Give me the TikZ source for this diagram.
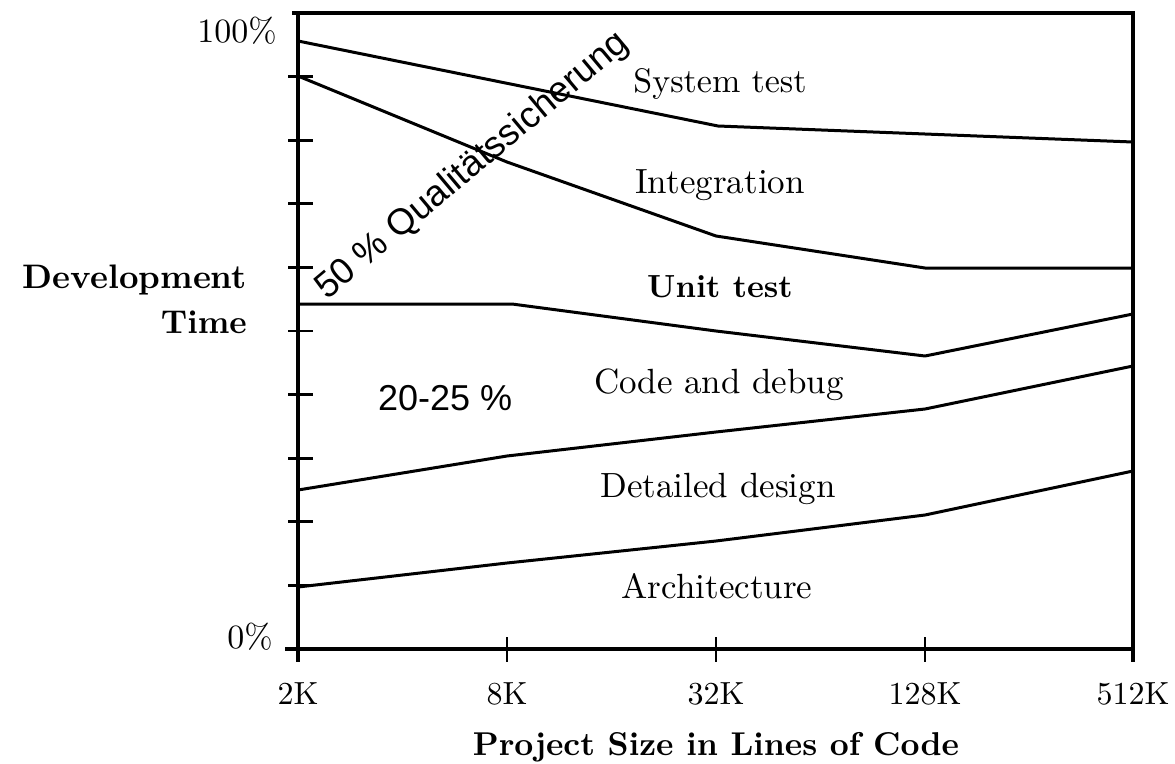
\documentclass[tikz,border=0pt]{standalone}
\usepackage{fontspec}
\setmainfont{lmroman10}[Extension=.otf, UprightFont=*-regular, BoldFont=*-bold, ItalicFont=*-italic]
\newfontfamily\notesans{Liberation Sans}
\begin{document}
\begin{tikzpicture}[x=1pt,y=-1pt,
  curve/.style={line width=3pt, line join=round},
  axisline/.style={line width=3.4pt, line cap=butt},
  tickmark/.style={line width=2.8pt},
  phase/.style={font=\fontsize{35}{40}\selectfont, anchor=base, inner sep=0pt},
  boldphase/.style={font=\bfseries\fontsize{32}{38}\selectfont, anchor=base, inner sep=0pt},
  ticklabel/.style={font=\fontsize{32}{38}\selectfont, anchor=base, inner sep=0pt},
  pctlabel/.style={font=\fontsize{34}{40}\selectfont, anchor=base east, inner sep=0pt},
  axistitle/.style={font=\bfseries\fontsize{33}{40}\selectfont, inner sep=0pt},
  note/.style={font=\notesans\fontsize{36}{42}\selectfont, inner sep=0pt}]
\useasboundingbox (0,0) rectangle (1175,763);
\fill[white] (0,0) rectangle (1175,763);

% frame and axes
\coordinate (tl) at (298,13);
\coordinate (tr) at (1133,13);
\coordinate (bl) at (298,649);
\coordinate (br) at (1133,649);
\draw[axisline] (292,13) -- (tr) -- (1133,662);
\draw[axisline] (tl) -- (298,662);
\draw[axisline] (285,649) -- (br);

% y ticks every 10 %
\foreach \k in {1,...,9}
  \draw[tickmark] (288,{649-63.6*\k}) -- (313,{649-63.6*\k});
% x ticks
\foreach \xx in {507,716,925}
  \draw[tickmark] (\xx,637) -- (\xx,662);

% phase boundaries
\coordinate (s0) at (298,41);   \coordinate (s2) at (718,126);
\coordinate (s3) at (925,134);  \coordinate (s4) at (1133,142);
\draw[curve] (s0) -- (s2) -- (s3) -- (s4);

\coordinate (i0) at (298,76);   \coordinate (i1) at (507,162);
\coordinate (i2) at (716,236);  \coordinate (i3) at (925,268);
\coordinate (i4) at (1133,268);
\draw[curve] (i0) -- (i1) -- (i2) -- (i3) -- (i4);

\coordinate (u0) at (298,304);  \coordinate (u1) at (512,304);
\coordinate (u2) at (716,331);  \coordinate (u3) at (925,356);
\coordinate (u4) at (1133,314);
\draw[curve] (u0) -- (u1) -- (u2) -- (u3) -- (u4);

\coordinate (c0) at (298,490);  \coordinate (c1) at (507,456);
\coordinate (c2) at (716,432);  \coordinate (c3) at (925,409);
\coordinate (c4) at (1133,366);
\draw[curve] (c0) -- (c1) -- (c2) -- (c3) -- (c4);

\coordinate (d0) at (298,587);  \coordinate (d1) at (507,563);
\coordinate (d2) at (716,541);  \coordinate (d3) at (925,515);
\coordinate (d4) at (1133,471);
\draw[curve] (d0) -- (d1) -- (d2) -- (d3) -- (d4);

% phase names
\node[phase, font=\fontsize{34}{40}\selectfont] (systest) at (720,92) {System test};
\node[phase] (integ) at (720,193) {Integration};
\node[boldphase] (unittest) at (720,297) {Unit test};
\node[phase] (code) at (719,393) {Code and debug};
\node[phase] (detail) at (718,497) {Detailed design};
\node[phase] (arch) at (717,598) {Architecture};

% axis labels
\node[pctlabel] (p100) at (277,42) {100\%};
\node[pctlabel] (p0) at (273,648) {0\%};
\node[ticklabel] (k2) at (298,704) {2K};
\node[ticklabel] (k8) at (507,704) {8K};
\node[ticklabel] (k32) at (716,704) {32K};
\node[ticklabel] (k128) at (925,704) {128K};
\node[ticklabel] (k512) at (1133,704) {512K};
\node[axistitle, anchor=base] (xtitle) at (716,755) {Project Size in Lines of Code};
\node[axistitle, anchor=base east, font=\bfseries\fontsize{34}{40}\selectfont] (ytitle1) at (247,288) {Development};
\node[axistitle, anchor=base east] (ytitle2) at (247,333) {Time};

% annotations
\node[note, anchor=base west] (share) at (378,410) {20-25 \%};
\node[note, anchor=base west, rotate=40, font=\notesans\fontsize{36.5}{42}\selectfont] (qs) at (327,301) {50 \% Qualitätssicherung};
\end{tikzpicture}
\end{document}
